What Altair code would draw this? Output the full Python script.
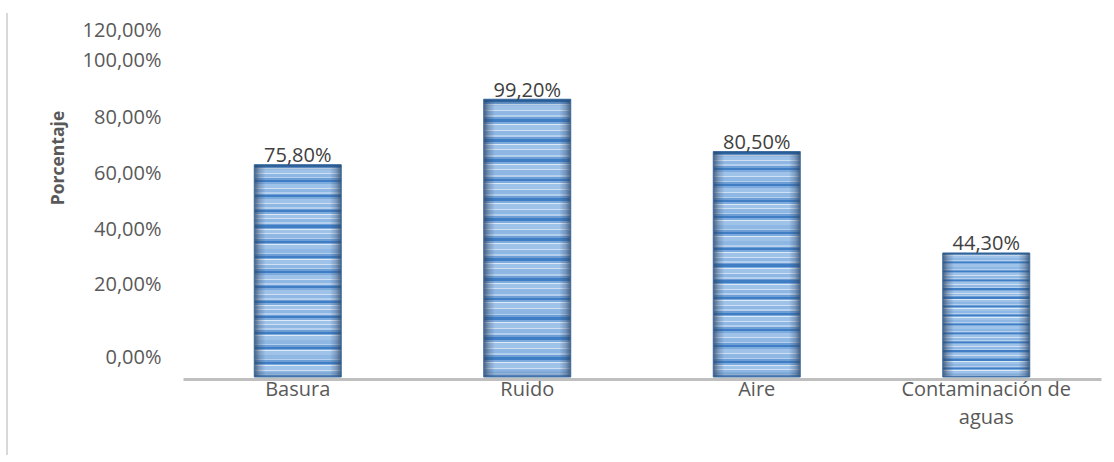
import altair as alt
import pandas as pd

# Survey results: share of respondents per pollution type
categories = ["Basura", "Ruido", "Aire", "Contaminación de aguas"]
percentages = [75.8, 99.2, 80.5, 44.3]

# Y-axis tick labels and the data values they sit at
y_tick_values = [6.9, 33.2, 52.6, 72.6, 92.6, 113.1, 123.6]
y_tick_labels = ["0,00%", "20,00%", "40,00%", "60,00%", "80,00%", "100,00%", "120,00%"]

df = pd.DataFrame({"categoria": categories, "porcentaje": percentages})

FONT = "Open Sans"
AXIS_TEXT = "#595959"

# Horizontal stripe fill: one cycle of (colour, relative thickness), repeated
stripe_cycle = [
    ("#3f7ec4", 0.14),
    ("#7eabdd", 0.10),
    ("#dce9f7", 0.05),
    ("#9fc2e9", 0.24),
    ("#cfe0f4", 0.05),
    ("#8eb7e4", 0.22),
    ("#b5d0ef", 0.10),
    ("#6d9fd6", 0.10),
]
n_cycles = 14
stops = []
for k in range(n_cycles):
    start = k / n_cycles
    for colour, frac in stripe_cycle:
        end = min(1.0, start + frac / n_cycles)
        stops.append(alt.GradientStop(color=colour, offset=round(start, 5)))
        stops.append(alt.GradientStop(color=colour, offset=round(end, 5)))
        start = end
stripes = alt.LinearGradient(gradient="linear", x1=0, y1=0, x2=0, y2=1, stops=stops)

# Darkened left/right edges for a rounded look
edge_shade = alt.LinearGradient(
    gradient="linear", x1=0, y1=0, x2=1, y2=0,
    stops=[
        alt.GradientStop(color="rgba(45,65,95,0.75)", offset=0),
        alt.GradientStop(color="rgba(45,65,95,0.3)", offset=0.06),
        alt.GradientStop(color="rgba(45,65,95,0)", offset=0.13),
        alt.GradientStop(color="rgba(45,65,95,0)", offset=0.87),
        alt.GradientStop(color="rgba(45,65,95,0.3)", offset=0.94),
        alt.GradientStop(color="rgba(45,65,95,0.75)", offset=1),
    ],
)

# Darker cap at the top and a slight shadow at the bottom
cap_shade = alt.LinearGradient(
    gradient="linear", x1=0, y1=0, x2=0, y2=1,
    stops=[
        alt.GradientStop(color="rgba(30,75,125,0.85)", offset=0),
        alt.GradientStop(color="rgba(30,75,125,0.35)", offset=0.012),
        alt.GradientStop(color="rgba(30,75,125,0)", offset=0.025),
        alt.GradientStop(color="rgba(30,75,125,0)", offset=0.975),
        alt.GradientStop(color="rgba(30,75,125,0.45)", offset=1),
    ],
)

label_lookup = (
    "[" + ",".join("'" + s + "'" for s in y_tick_labels) + "]"
    + "[indexof([" + ",".join(str(v) for v in y_tick_values) + "], datum.value)]"
)

wrap_expr = (
    "indexof(datum.label, ' de ') > 0 ? "
    "[slice(datum.label, 0, indexof(datum.label, ' de ') + 3), "
    "slice(datum.label, indexof(datum.label, ' de ') + 4)] : datum.label"
)

x_enc = alt.X(
    "categoria:N",
    sort=categories,
    scale=alt.Scale(paddingInner=0.621, paddingOuter=0.3105),
    axis=alt.Axis(
        title=None,
        labelAngle=0,
        labelFont=FONT,
        labelFontSize=20,
        labelColor=AXIS_TEXT,
        labelExpr=wrap_expr,
        labelLineHeight=28,
        labelPadding=0,
        ticks=False,
        tickSize=0,
        domainColor="#bfbfbf",
        domainWidth=3,
        offset=2,
        grid=False,
    ),
)

y_enc = alt.Y(
    "porcentaje:Q",
    scale=alt.Scale(domain=[0, 130], nice=False),
    axis=alt.Axis(
        title="Porcentaje",
        titleFont=FONT,
        titleFontSize=17.5,
        titleFontWeight="bold",
        titleColor=AXIS_TEXT,
        titleAngle=270,
        titleAlign="center",
        titleBaseline="alphabetic",
        titleX=-120,
        titleY=144.5,
        values=y_tick_values,
        labelExpr=label_lookup,
        labelFont=FONT,
        labelFontSize=20,
        labelColor=AXIS_TEXT,
        labelPadding=22,
        ticks=False,
        tickSize=0,
        domain=False,
        grid=False,
    ),
)

base = alt.Chart(df).encode(x=x_enc, y=y_enc)

bars = base.mark_bar(color=stripes)
edges = base.mark_bar(fill=edge_shade)
caps = base.mark_bar(fill=cap_shade, stroke="#3d6d9e", strokeWidth=1)

value_labels = base.transform_calculate(
    etiqueta="replace(format(datum.porcentaje / 100, '.2%'), '.', ',')"
).mark_text(
    baseline="alphabetic", dy=-2.5, font=FONT, fontSize=20, color="#404040"
).encode(text="etiqueta:N")

# Thin frame line on the left side of the figure
frame = base.mark_rule(color="#d9d9d9", strokeWidth=2).encode(
    x=alt.value(-176), y=alt.value(0), y2=alt.value(442)
)

chart = (
    alt.layer(frame, bars, edges, caps, value_labels)
    .properties(
        width=918,
        height=364,
        padding={"left": 183, "top": 13, "right": 13, "bottom": 85},
        autosize=alt.AutoSizeParams(type="none"),
        background="white",
    )
    .configure_view(strokeWidth=0)
)

chart.save("out.html", embed_options={"renderer": "svg", "actions": False})
